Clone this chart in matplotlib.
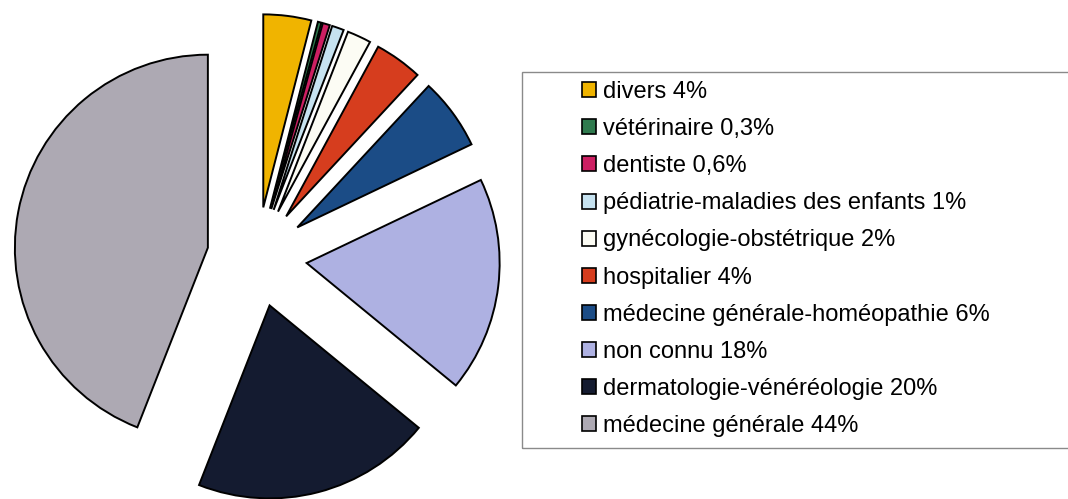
import matplotlib
matplotlib.use("Agg")
import matplotlib.pyplot as plt
from matplotlib.patches import Rectangle

plt.rcParams['font.family'] = ['Liberation Sans', 'DejaVu Sans']

# slices, clockwise from 12 o'clock
labels = ['divers 4%',
          'vétérinaire 0,3%',
          'dentiste 0,6%',
          'pédiatrie-maladies des enfants 1%',
          'gynécologie-obstétrique 2%',
          'hospitalier 4%',
          'médecine générale-homéopathie 6%',
          'non connu 18%',
          'dermatologie-vénéréologie 20%',
          'médecine générale 44%',
          ]
values = [4, 0.3, 0.6, 1, 2, 4, 6, 18, 20, 44]
colors = ['#F0B400', '#2F7A4E', '#CC1F62', '#C6E2F0', '#FCFCF4',
          '#D63D1E', '#1B4C86', '#AEB1E2', '#141B30', '#ADA9B3']

fig = plt.figure(figsize=(10.68, 4.99), dpi=100)
ax = fig.add_axes([0, 0, 1, 1])

# axes in pixel units, so radius and explode are in pixels too
radius = 193
wedges, _ = ax.pie(values, colors=colors, explode=[50] * len(values),
                   startangle=90, counterclock=False, radius=radius,
                   center=(257, 242), frame=True,
                   wedgeprops=dict(edgecolor='black', linewidth=1.4))
ax.set_xlim(0, 1068)
ax.set_ylim(0, 499)
ax.set_aspect('equal')
ax.axis('off')

# legend box runs off the right edge
fig.patches.append(Rectangle((522 / 1068, 1 - 448 / 499), 0.6, 376 / 499,
                             transform=fig.transFigure, fill=False,
                             edgecolor='#8a8a8a', linewidth=1))

leg = fig.legend(wedges, labels, loc='center left',
                 bbox_to_anchor=(582 / 1068, 1 - 259 / 499),
                 frameon=False, fontsize=17, borderpad=0, borderaxespad=0,
                 handlelength=0.6, handleheight=0.6, handletextpad=0.3,
                 labelspacing=0.64)
for h in leg.legend_handles:
    h.set_linewidth(1.2)

fig.savefig('out.png', dpi=100)
